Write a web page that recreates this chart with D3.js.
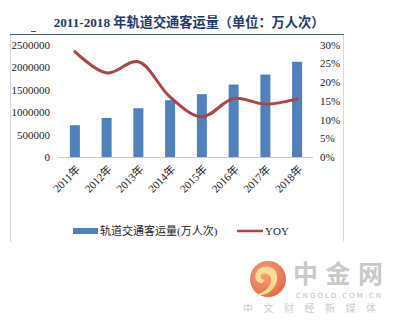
<!DOCTYPE html>
<html><head><meta charset="utf-8">
<script src="https://cdn.jsdelivr.net/npm/d3@7"></script>
<style>
body{margin:0;background:#fff;}
svg{display:block;}
</style>
</head><body>
<svg id="c" width="399" height="326"></svg>
<script>
const categories = ["2011年","2012年","2013年","2014年","2015年","2016年","2017年","2018年"];
const passengers = [706000, 868000, 1084000, 1262000, 1396000, 1610000, 1832000, 2115000];
const yoy = [28.1, 22.4, 25.4, 16.0, 10.7, 15.6, 14.1, 15.5];
const leftTicks = [0, 500000, 1000000, 1500000, 2000000, 2500000];
const rightTicks = [0, 5, 10, 15, 20, 25, 30];
const seriesNames = ["轨道交通客运量(万人次)", "YOY"];
const titleText = "2011-2018 年轨道交通客运量（单位：万人次）";

const svg = d3.select("#c");
const serif = "'Liberation Serif','Times New Roman','Noto Sans CJK SC',serif";
const barColor = "#4F81BD", lineColor = "#AA4644";

// frame
svg.append("line").attr("x1",10.5).attr("x2",10.5).attr("y1",34).attr("y2",242).attr("stroke","#d9d9d9");
svg.append("line").attr("x1",343.5).attr("x2",343.5).attr("y1",34).attr("y2",242).attr("stroke","#d9d9d9");
svg.append("line").attr("x1",10).attr("x2",344).attr("y1",34.5).attr("y2",34.5).attr("stroke","#4a5f7e").attr("stroke-width",1.2);
svg.append("line").attr("x1",31).attr("x2",36).attr("y1",31.5).attr("y2",31.5).attr("stroke","#555");

// title
svg.append("text").attr("x",189).attr("y",27).attr("text-anchor","middle")
  .attr("font-family",serif).attr("font-weight","bold").attr("font-size",13.2)
  .attr("fill","#1F3A6E").text(titleText);

const x = d3.scaleBand().domain(categories).range([59,313]).padding(0);
const yL = d3.scaleLinear().domain([0,2500000]).range([157,44.5]);
const yR = d3.scaleLinear().domain([0,30]).range([157,44.5]);

// left axis
const gL = svg.append("g").attr("transform","translate(54,0)")
  .call(d3.axisLeft(yL).tickValues(leftTicks).tickSize(0).tickPadding(4).tickFormat(d3.format("d")));
gL.select(".domain").remove();
gL.selectAll("text").attr("font-family",serif).attr("font-size",11).attr("fill","#222");

// right axis
const gR = svg.append("g").attr("transform","translate(318,0)")
  .call(d3.axisRight(yR).tickValues(rightTicks).tickSize(0).tickPadding(2).tickFormat(d=>d+"%"));
gR.select(".domain").remove();
gR.selectAll("text").attr("font-family",serif).attr("font-size",11).attr("fill","#222");

// baseline
const gB = svg.append("g").attr("transform","translate(0,157)")
  .call(d3.axisBottom(x).tickSize(0).tickPadding(0));
gB.select(".domain").attr("stroke","#c8c8c8").attr("d","M58,0.5H313");
gB.selectAll(".tick text")
  .attr("font-family",serif).attr("font-size",11).attr("fill","#222")
  .attr("text-anchor","end").attr("dy",0)
  .attr("transform","translate(6,13) rotate(-45)");

// bars
svg.append("g").selectAll("rect").data(passengers).join("rect")
  .attr("x",(d,i)=>x(categories[i])+x.bandwidth()/2-5)
  .attr("width",10)
  .attr("y",d=>yL(d))
  .attr("height",d=>yL(0)-yL(d))
  .attr("fill",barColor);

// line
const line = d3.line()
  .x((d,i)=>x(categories[i])+x.bandwidth()/2)
  .y(d=>yR(d))
  .curve(d3.curveCatmullRom.alpha(0.5));
svg.append("path").datum(yoy).attr("d",line)
  .attr("fill","none").attr("stroke",lineColor).attr("stroke-width",3).attr("stroke-linecap","round");

// legend
const lg = svg.append("g");
lg.append("rect").attr("x",73).attr("y",228).attr("width",25).attr("height",6).attr("fill",barColor);
lg.append("text").attr("x",100).attr("y",235).attr("font-family",serif).attr("font-size",11).attr("fill","#222").text(seriesNames[0]);
lg.append("line").attr("x1",237).attr("x2",263).attr("y1",231).attr("y2",231).attr("stroke",lineColor).attr("stroke-width",2.5);
lg.append("text").attr("x",265).attr("y",235).attr("font-family",serif).attr("font-size",11).attr("fill","#222").text(seriesNames[1]);

// watermark
const defs = svg.append("defs");
const rg = defs.append("radialGradient").attr("id","lg").attr("cx","40%").attr("cy","35%").attr("r","70%");
rg.append("stop").attr("offset","0%").attr("stop-color","#F39A72");
rg.append("stop").attr("offset","100%").attr("stop-color","#E05A36");
const wm = svg.append("g").attr("opacity",0.9);
wm.append("circle").attr("cx",268).attr("cy",279).attr("r",18).attr("fill","url(#lg)");
wm.append("path")
  .attr("d","M262,283 C255,283 253,275 258,270 C263,265 273,266 276,272 C279,279 276,288 268,293 C264,295 259,296 256,295 C262,293 270,289 271,281 C272,275 266,272 262,274 C259,276 261,280 265,280 Z")
  .attr("fill","#FBD987");
wm.append("text").attr("x",293).attr("y",283).attr("font-family","'Noto Sans CJK SC',sans-serif").attr("font-size",25)
  .attr("fill","#c4c4c4").attr("font-weight","bold").attr("textLength",90).text("中金网");
wm.append("text").attr("x",296).attr("y",297.5).attr("font-family","'DejaVu Sans',sans-serif").attr("font-size",7)
  .attr("fill","#b5b5b5").attr("textLength",85).text("CNGOLD.COM.CN");
wm.append("text").attr("x",243).attr("y",311.5).attr("font-family","'Noto Sans CJK SC',sans-serif").attr("font-size",10)
  .attr("fill","#c4c4c4").attr("letter-spacing",10.5).text("中文财经新媒体");
</script>
</body></html>
